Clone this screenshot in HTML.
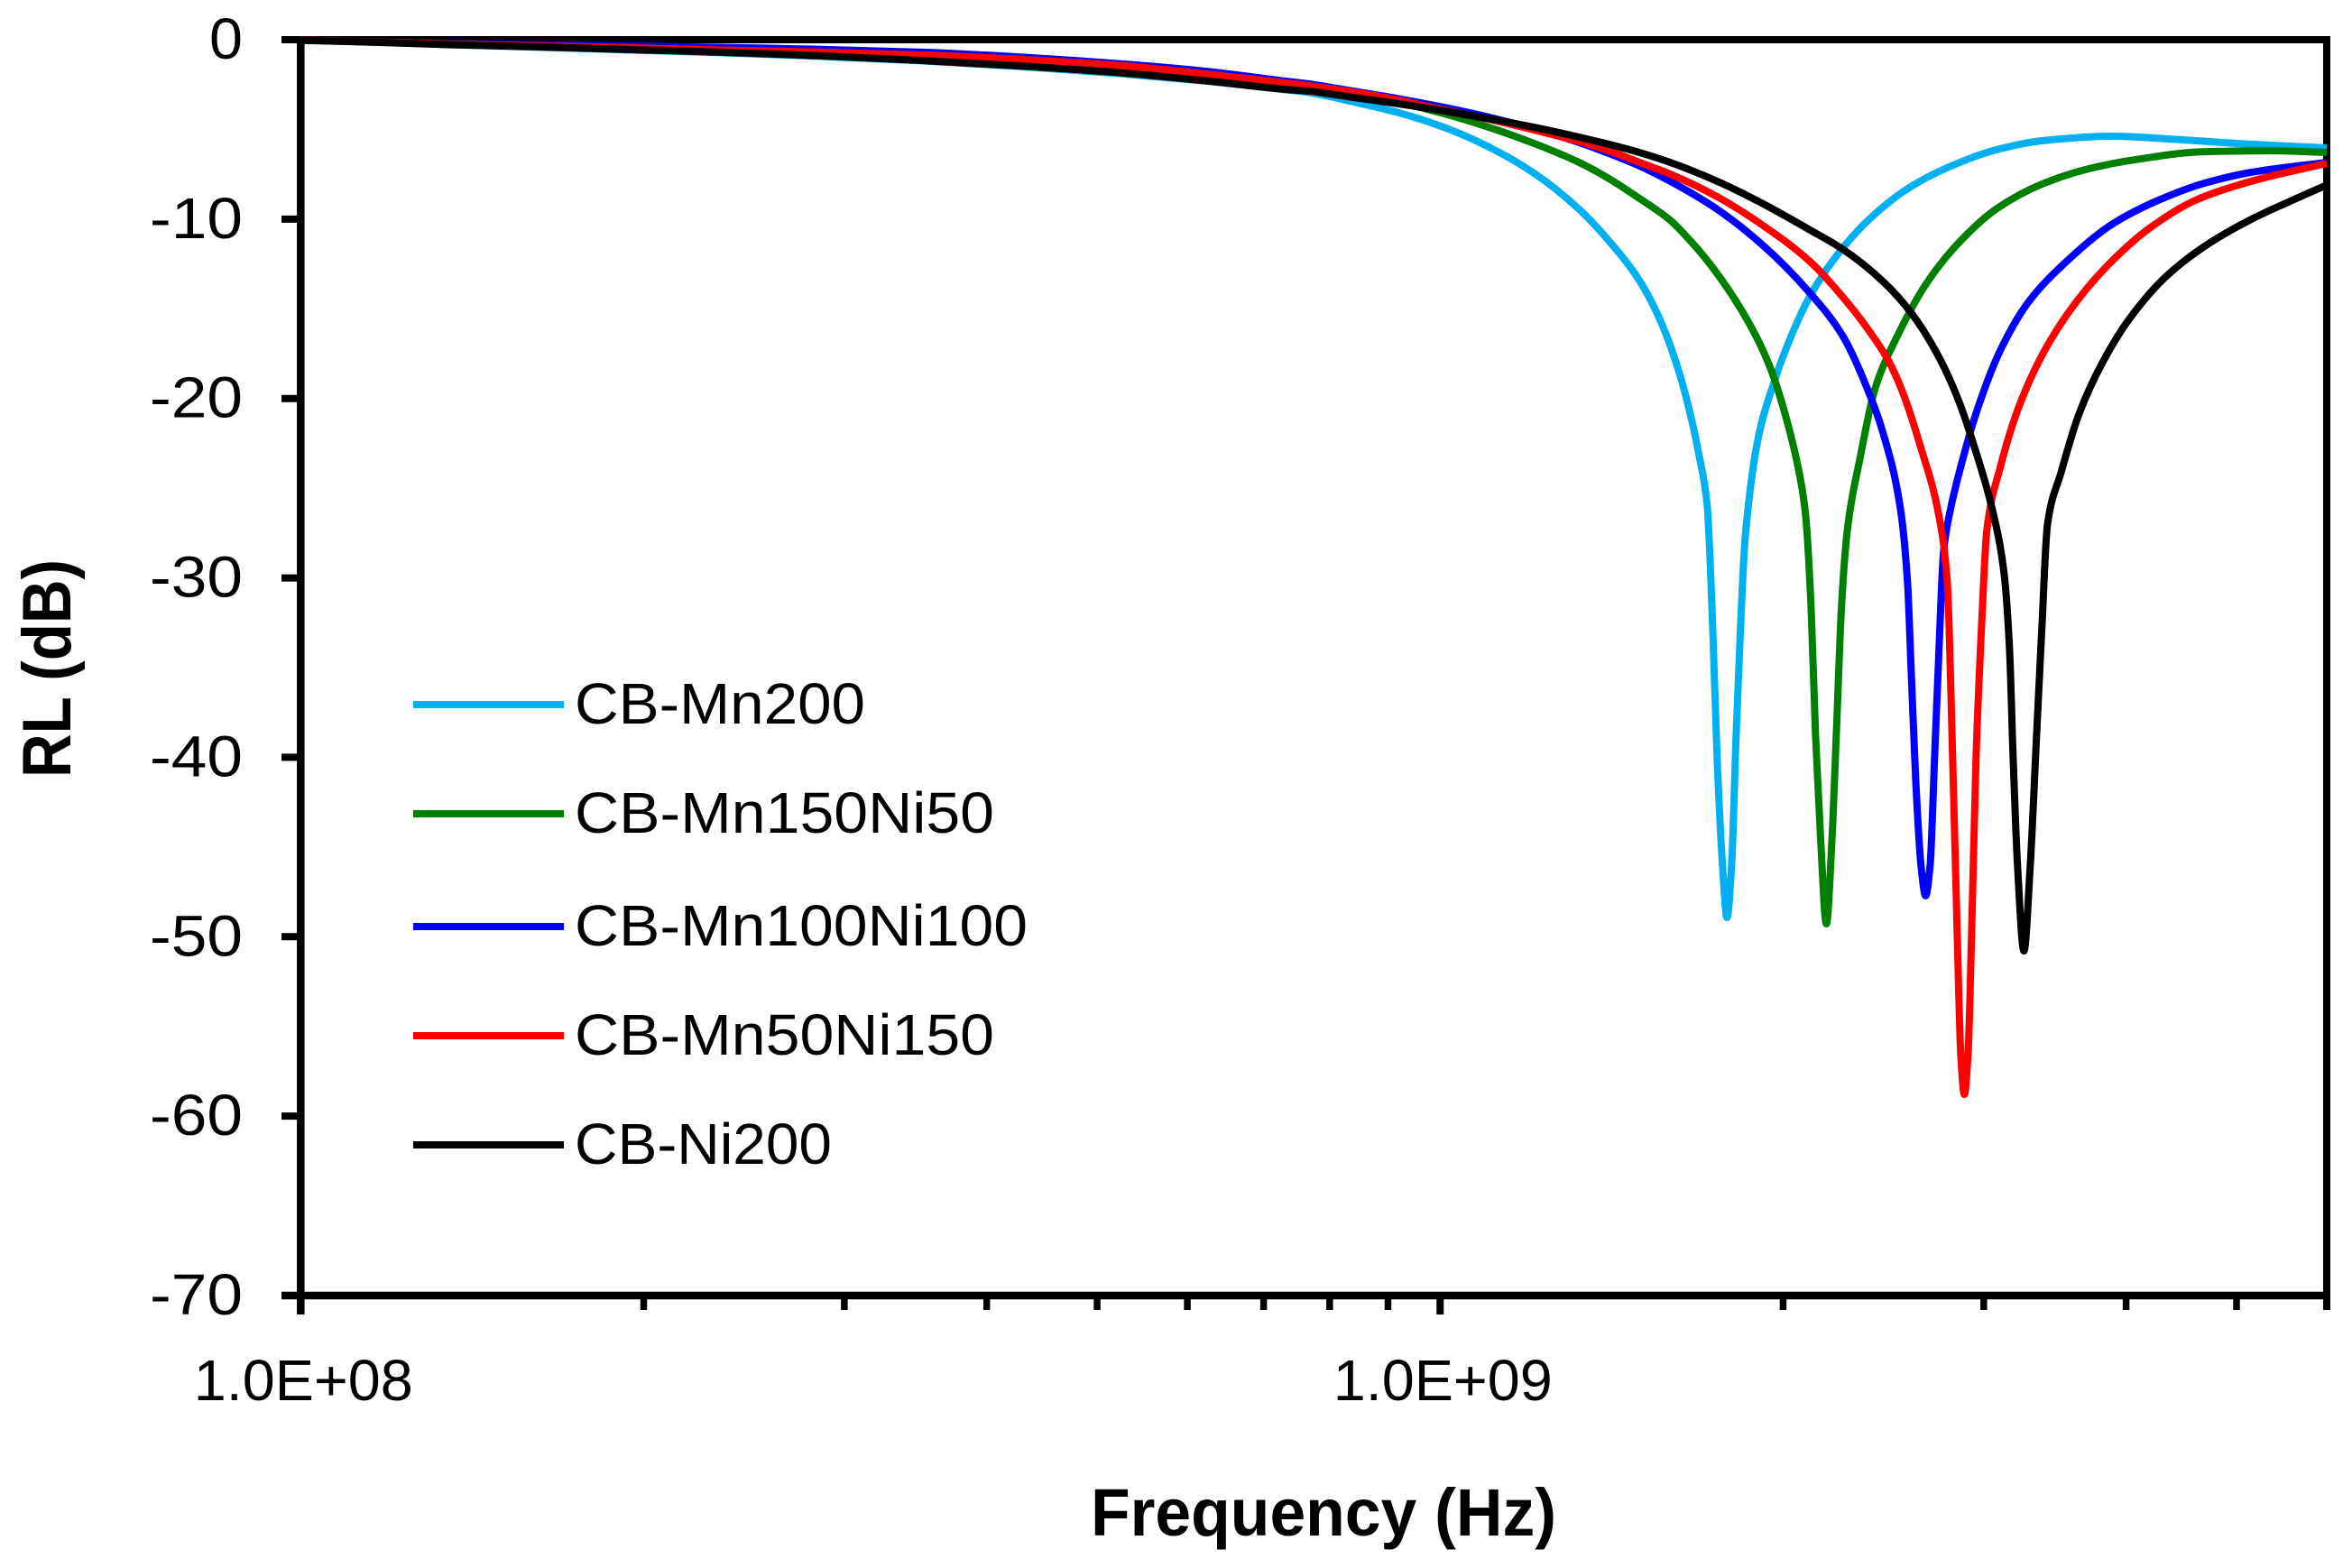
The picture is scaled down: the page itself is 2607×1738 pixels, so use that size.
<!DOCTYPE html>
<html lang="en">
<head>
<meta charset="utf-8">
<title>RL vs Frequency</title>
<style>
  html, body { margin: 0; padding: 0; background: #ffffff; }
  svg { display: block; }
  text { font-family: "Liberation Sans", "DejaVu Sans", sans-serif; fill: #000; }
</style>
</head>
<body>
<svg id="chart" xmlns="http://www.w3.org/2000/svg" width="2607" height="1738" viewBox="0 0 2607 1738">
  <rect x="0" y="0" width="2607" height="1738" fill="#ffffff"/>
  <g id="axes"></g>
  <g id="series"></g>

  <g>
    <g>
      <line x1="458" x2="625" y1="781" y2="781" stroke="#00B0F0" stroke-width="8"/>
      <text x="637" y="802" font-size="64" textLength="322" lengthAdjust="spacingAndGlyphs">CB-Mn200</text>
    </g>
    <g>
      <line x1="458" x2="625" y1="902" y2="902" stroke="#007F00" stroke-width="8"/>
      <text x="637" y="923" font-size="64" textLength="465" lengthAdjust="spacingAndGlyphs">CB-Mn150Ni50</text>
    </g>
    <g>
      <line x1="458" x2="625" y1="1027" y2="1027" stroke="#0000FF" stroke-width="8"/>
      <text x="637" y="1048" font-size="64" textLength="502" lengthAdjust="spacingAndGlyphs">CB-Mn100Ni100</text>
    </g>
    <g>
      <line x1="458" x2="625" y1="1148" y2="1148" stroke="#FF0000" stroke-width="8"/>
      <text x="637" y="1169" font-size="64" textLength="465" lengthAdjust="spacingAndGlyphs">CB-Mn50Ni150</text>
    </g>
    <g>
      <line x1="458" x2="625" y1="1269" y2="1269" stroke="#000000" stroke-width="8"/>
      <text x="637" y="1290" font-size="64" textLength="285" lengthAdjust="spacingAndGlyphs">CB-Ni200</text>
    </g>
  </g>

  <text x="1209" y="1702" font-size="74" font-weight="bold" textLength="516" lengthAdjust="spacingAndGlyphs">Frequency (Hz)</text>
  <text transform="translate(78,862) rotate(-90)" x="0" y="0" font-size="76" font-weight="bold" textLength="242" lengthAdjust="spacingAndGlyphs">RL (dB)</text>
</svg>

<script>
// ---- Axis values ----
const yTickValues = [0, -10, -20, -30, -40, -50, -60, -70];
const yTickLabels = ['0', '-10', '-20', '-30', '-40', '-50', '-60', '-70'];
const xMajorTickHz = [1e8, 1e9];
const xMajorTickLabels = ['1.0E+08', '1.0E+09'];
const xMinorTickHz = [2e8, 3e8, 4e8, 5e8, 6e8, 7e8, 8e8, 9e8, 2e9, 3e9, 4e9, 5e9, 6e9];

// ---- Series values: log10(frequency in Hz) and RL in dB ----
const lowBandLogHz = [8.0000, 8.0687, 8.1320, 8.2112, 8.2904, 8.3696, 8.4488, 8.5462, 8.6349, 8.7228, 8.7941, 8.8646, 8.8844, 8.9240, 8.9636, 9.0032, 9.0428, 9.0824, 9.1220, 9.1481, 9.1750];

const mn200LowRl = [-0.03, -0.15, -0.28, -0.43, -0.58, -0.73, -0.91, -1.18, -1.51, -1.91, -2.31, -2.79, -2.94, -3.47, -4.07, -4.88, -5.98, -7.44, -9.45, -11.21, -13.43];
const mn200HighLogHz = [9.1932, 9.2091, 9.2194, 9.2273, 9.2344, 9.2392, 9.2431, 9.2479, 9.2518, 9.2558, 9.2598, 9.2637, 9.2677, 9.2796, 9.2922, 9.3041, 9.3247, 9.3532, 9.3817, 9.4142, 9.4467, 9.4878, 9.5282, 9.5892, 9.6510, 9.7120, 9.7782];
const mn200HighRl = [-15.64, -18.40, -20.82, -23.18, -25.95, -32.69, -39.98, -46.06, -48.93, -46.06, -38.77, -32.69, -27.81, -22.08, -19.26, -17.15, -14.28, -11.62, -9.71, -8.15, -7.09, -6.14, -5.63, -5.38, -5.58, -5.83, -6.03];

const mn150LowRl = [-0.02, -0.13, -0.23, -0.30, -0.38, -0.45, -0.58, -0.73, -1.01, -1.41, -1.86, -2.41, -2.59, -2.97, -3.49, -4.12, -4.88, -5.78, -6.84, -7.74, -8.85];
const mn150HighLogHz = [9.2019, 9.2146, 9.2352, 9.2637, 9.2883, 9.3041, 9.3168, 9.3207, 9.3255, 9.3295, 9.3342, 9.3390, 9.3437, 9.3477, 9.3524, 9.3572, 9.3690, 9.3817, 9.4023, 9.4269, 9.4546, 9.4878, 9.5282, 9.5694, 9.6098, 9.6708, 9.7318, 9.7782];
const mn150HighRl = [-10.06, -10.86, -12.37, -14.99, -18.05, -21.17, -24.69, -26.45, -31.48, -38.77, -44.86, -49.28, -44.86, -38.77, -31.48, -27.46, -23.18, -19.46, -16.39, -13.58, -11.36, -9.45, -8.05, -7.19, -6.69, -6.24, -6.19, -6.29];

const mn100LowRl = [-0.02, -0.13, -0.23, -0.28, -0.35, -0.43, -0.53, -0.70, -0.98, -1.36, -1.76, -2.31, -2.46, -2.87, -3.29, -3.77, -4.32, -4.98, -5.73, -6.34, -7.04];
const mn100HighLogHz = [9.2019, 9.2431, 9.2835, 9.3247, 9.3532, 9.3778, 9.3888, 9.4039, 9.4102, 9.4134, 9.4174, 9.4221, 9.4261, 9.4300, 9.4340, 9.4379, 9.4419, 9.4482, 9.4570, 9.4712, 9.4918, 9.5163, 9.5488, 9.5892, 9.6304, 9.6708, 9.7120, 9.7782];
const mn100HighRl = [-7.89, -9.45, -11.47, -14.13, -16.49, -19.91, -21.93, -26.10, -30.22, -35.10, -41.24, -46.06, -47.72, -46.06, -39.98, -33.89, -28.51, -26.10, -23.79, -20.67, -17.30, -14.63, -12.42, -10.31, -8.95, -8.00, -7.39, -6.84];

const mn50LowRl = [-0.02, -0.14, -0.25, -0.35, -0.45, -0.58, -0.68, -0.85, -1.11, -1.46, -1.91, -2.41, -2.56, -2.92, -3.37, -3.92, -4.43, -5.03, -5.68, -6.19, -6.84];
const mn50HighLogHz = [9.2019, 9.2431, 9.2835, 9.3247, 9.3572, 9.3817, 9.3936, 9.4063, 9.4221, 9.4372, 9.4451, 9.4498, 9.4538, 9.4570, 9.4601, 9.4633, 9.4665, 9.4704, 9.4752, 9.4799, 9.4918, 9.5076, 9.5282, 9.5528, 9.5853, 9.6225, 9.6629, 9.7120, 9.7782];
const mn50HighRl = [-7.49, -8.75, -10.36, -12.37, -14.63, -16.70, -17.90, -19.71, -22.78, -26.35, -30.22, -39.98, -49.73, -56.62, -58.79, -56.62, -49.73, -39.98, -32.69, -27.31, -23.79, -20.52, -17.60, -15.09, -12.62, -10.51, -8.95, -7.89, -6.89];

const ni200LowRl = [-0.03, -0.15, -0.28, -0.40, -0.55, -0.70, -0.88, -1.16, -1.48, -1.86, -2.29, -2.77, -2.87, -3.22, -3.57, -3.97, -4.40, -4.88, -5.43, -5.83, -6.29];
const ni200HighLogHz = [9.2019, 9.2431, 9.2835, 9.3247, 9.3532, 9.3896, 9.4142, 9.4387, 9.4554, 9.4688, 9.4847, 9.4950, 9.4997, 9.5029, 9.5068, 9.5124, 9.5179, 9.5235, 9.5282, 9.5330, 9.5449, 9.5607, 9.5813, 9.6058, 9.6383, 9.6747, 9.7120, 9.7444, 9.7782];
const ni200HighRl = [-6.84, -7.89, -9.15, -10.61, -11.67, -13.53, -15.29, -17.80, -20.17, -22.68, -26.20, -29.77, -33.89, -39.98, -46.06, -50.79, -46.06, -38.77, -32.69, -27.05, -24.14, -20.87, -18.00, -15.49, -13.13, -11.36, -10.01, -9.05, -8.10];

const seriesNames = ['cb-mn200', 'cb-mn150ni50', 'cb-mn100ni100', 'cb-mn50ni150', 'cb-ni200'];
const seriesColors = ['#00B0F0', '#007F00', '#0000FF', '#FF0000', '#000000'];
const seriesLogHz = [mn200HighLogHz, mn150HighLogHz, mn100HighLogHz, mn50HighLogHz, ni200HighLogHz];
const seriesLowRl = [mn200LowRl, mn150LowRl, mn100LowRl, mn50LowRl, ni200LowRl];
const seriesHighRl = [mn200HighRl, mn150HighRl, mn100HighRl, mn50HighRl, ni200HighRl];

// ---- Plot frame and scales ----
const plotLeft = 333.3, plotRight = 2579, plotTop = 44, plotBottom = 1436;
const logMin = 8, logMax = Math.log10(6e9);
const dbMin = -70, dbMax = 0;
function xScale(logHz) { return plotLeft + (logHz - logMin) / (logMax - logMin) * (plotRight - plotLeft); }
function yScale(db) { return plotTop + (dbMax - db) / (dbMax - dbMin) * (plotBottom - plotTop); }

const SVG_NS = 'http://www.w3.org/2000/svg';
const axesGroup = document.getElementById('axes');
const seriesGroup = document.getElementById('series');

function makeLine(x1, y1, x2, y2, width) {
  const el = document.createElementNS(SVG_NS, 'line');
  el.setAttribute('x1', x1);
  el.setAttribute('y1', y1);
  el.setAttribute('x2', x2);
  el.setAttribute('y2', y2);
  el.setAttribute('stroke', '#000');
  el.setAttribute('stroke-width', width);
  axesGroup.appendChild(el);
  return el;
}

function makeText(str, x, y, anchor, length) {
  const el = document.createElementNS(SVG_NS, 'text');
  el.textContent = str;
  el.setAttribute('x', x);
  el.setAttribute('y', y);
  el.setAttribute('font-size', '64');
  el.setAttribute('text-anchor', anchor);
  el.setAttribute('textLength', length);
  el.setAttribute('lengthAdjust', 'spacingAndGlyphs');
  axesGroup.appendChild(el);
  return el;
}

// ---- Frame ----
const frameTop = makeLine(312, plotTop, plotRight + 4, plotTop, 8);


const frameRight = makeLine(plotRight, plotTop - 4, plotRight, 1452, 8);


const yAxisLine = makeLine(plotLeft, plotTop - 4, plotLeft, 1457, 8.5);


const xAxisLine = makeLine(312, plotBottom, plotRight + 4, plotBottom, 8.5);



// ---- Y ticks ----
yTickValues.forEach(function (v, i) {
  const y = yScale(v);
  const tick = makeLine(312, y, plotLeft, y, 8);
  
  
  const label = yTickLabels[i];
  const len = label.length > 1 ? 103 : 37;
  const t = makeText(label, 269, y + 21, 'end', len);
  
  
});

// ---- X ticks ----
xMajorTickHz.forEach(function (hz, i) {
  const x = xScale(Math.log10(hz));
  const tick = makeLine(x, plotBottom, x, 1457, 8);
  
  
  const t = makeText(xMajorTickLabels[i], x + 3, 1552, 'middle', 243);
  
  
});
xMinorTickHz.forEach(function (hz) {
  const x = xScale(Math.log10(hz));
  const tick = makeLine(x, plotBottom, x, 1452, 7.5);
  
  
});

// ---- Monotone cubic path through the data points ----
function monotonePath(xs, ys) {
  const n = xs.length;
  const dx = [], m = [], t = [];
  for (let i = 0; i < n - 1; i++) {
    dx[i] = xs[i + 1] - xs[i];
    m[i] = (ys[i + 1] - ys[i]) / dx[i];
  }
  t[0] = m[0];
  t[n - 1] = m[n - 2];
  for (let i = 1; i < n - 1; i++) {
    if (m[i - 1] * m[i] <= 0) {
      t[i] = 0;
    } else {
      const w1 = 2 * dx[i] + dx[i - 1];
      const w2 = dx[i] + 2 * dx[i - 1];
      t[i] = (w1 + w2) / (w1 / m[i - 1] + w2 / m[i]);
    }
  }
  let d = 'M' + xs[0].toFixed(2) + ' ' + ys[0].toFixed(2);
  for (let i = 0; i < n - 1; i++) {
    const h = dx[i] / 3;
    d += 'C' + (xs[i] + h).toFixed(2) + ' ' + (ys[i] + t[i] * h).toFixed(2) + ' ' +
         (xs[i + 1] - h).toFixed(2) + ' ' + (ys[i + 1] - t[i + 1] * h).toFixed(2) + ' ' +
         xs[i + 1].toFixed(2) + ' ' + ys[i + 1].toFixed(2);
  }
  return d;
}

// ---- Series ----
seriesNames.forEach(function (name, i) {
  const logs = lowBandLogHz.concat(seriesLogHz[i]);
  const rls = seriesLowRl[i].concat(seriesHighRl[i]);
  const path = document.createElementNS(SVG_NS, 'path');
  path.setAttribute('d', monotonePath(logs.map(xScale), rls.map(yScale)));
  path.setAttribute('fill', 'none');
  path.setAttribute('stroke', seriesColors[i]);
  path.setAttribute('stroke-width', '8');
  path.setAttribute('stroke-linejoin', 'round');
  path.setAttribute('stroke-linecap', 'butt');
  
  
  seriesGroup.appendChild(path);
});
</script>
</body>
</html>
